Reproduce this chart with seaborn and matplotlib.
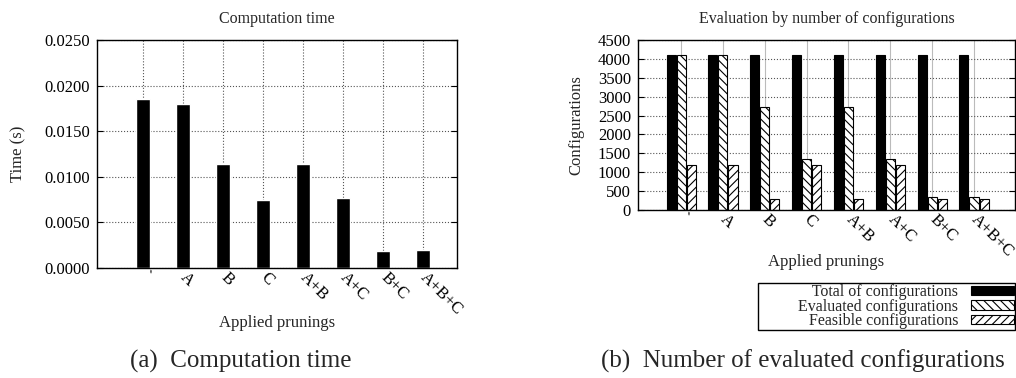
import numpy as np
import pandas as pd
import matplotlib
matplotlib.use('Agg')
import matplotlib.pyplot as plt
import seaborn as sns

# Data
prunings = ['`', 'A', 'B', 'C', 'A+B', 'A+C', 'B+C', 'A+B+C']
times = [0.01853, 0.01798, 0.0114, 0.00742, 0.0114, 0.00764, 0.0019, 0.00197]

total_cfg = [4096, 4096, 4096, 4096, 4096, 4096, 4096, 4096]
evaluated_cfg = [4096, 4096, 2730, 1340, 2730, 1340, 340, 340]
feasible_cfg = [1200, 1200, 280, 1200, 280, 1200, 280, 280]
series_names = ['Total of configurations', 'Evaluated configurations', 'Feasible configurations']

sns.set_style('white')
plt.rcParams['font.family'] = ['Liberation Serif', 'DejaVu Serif']
plt.rcParams['hatch.linewidth'] = 0.8

fig = plt.figure(figsize=(10.16, 3.78), dpi=100)
W, H = 1016, 378


def px_axes(x0, x1, ytop, ybot):
    return fig.add_axes([x0 / W, (H - ybot) / H, (x1 - x0) / W, (ybot - ytop) / H])


def style_axes(ax):
    for s in ax.spines.values():
        s.set_visible(True)
        s.set_color('black')
        s.set_linewidth(1.0)
    ax.set_axisbelow(True)
    ax.tick_params(axis='y', direction='in', length=4, right=True, left=True,
                   labelsize=12, colors='black', pad=5)
    ax.tick_params(axis='x', length=0, labelsize=12, pad=5, labelcolor='black')
    for lab in ax.get_xticklabels():
        lab.set_rotation(-45)
        lab.set_ha('left')
        lab.set_va('center')
        lab.set_rotation_mode('anchor')


# (a) Computation time
ax1 = px_axes(97, 457, 40, 268)
sns.barplot(x=prunings, y=times, color='black', width=0.35, saturation=1, ax=ax1)
ax1.set_xlim(-1.15, 7.85)
ax1.set_ylim(0, 0.025)
ax1.set_yticks(np.arange(0, 0.0251, 0.005))
ax1.yaxis.set_major_formatter(plt.FuncFormatter(lambda v, _: f'{v:.4f}'))
ax1.grid(True, linestyle=':', color='#555555', linewidth=0.8)
style_axes(ax1)
ax1.set_title('Computation time', fontsize=11.5, pad=12)
ax1.set_ylabel('Time (s)', fontsize=12)
ax1.set_xlabel('Applied prunings', fontsize=12)
ax1.yaxis.set_label_coords(-0.197, 0.5)
ax1.xaxis.set_label_coords(0.5, -0.205)

# (b) Number of evaluated configurations
df = pd.DataFrame({
    'pruning': prunings * 3,
    'value': total_cfg + evaluated_cfg + feasible_cfg,
    'series': [series_names[0]] * 8 + [series_names[1]] * 8 + [series_names[2]] * 8,
})
ax2 = px_axes(638, 1015, 40, 210)
sns.barplot(data=df, x='pruning', y='value', hue='series', hue_order=series_names,
            palette=['black', 'white', 'white'], saturation=1, width=0.72, gap=0.1,
            edgecolor='black', linewidth=0.8, ax=ax2)
hatches = ['', '\\\\\\\\', '////']
for cont, h in zip(ax2.containers, hatches):
    for bar in cont:
        bar.set_hatch(h)
ax2.set_xlim(-1.03, 7.98)
ax2.set_ylim(0, 4500)
ax2.set_yticks(np.arange(0, 4501, 500))
ax2.yaxis.grid(True, linestyle=':', color='#555555', linewidth=0.8)
ax2.xaxis.grid(True, linestyle='-', color='#bbbbbb', linewidth=0.8)
style_axes(ax2)
ax2.set_title('Evaluation by number of configurations', fontsize=11.5, pad=12)
ax2.set_ylabel('Configurations', fontsize=12)
ax2.set_xlabel('Applied prunings', fontsize=12)
ax2.yaxis.set_label_coords(-0.141, 0.5)
ax2.xaxis.set_label_coords(0.5, -0.26)

handles, labels = ax2.get_legend_handles_labels()
labels = ['          ' + l for l in labels]
leg = ax2.legend(handles, labels, loc='upper right', bbox_to_anchor=(1.0, -0.43),
                 borderaxespad=0, fancybox=False, edgecolor='black', framealpha=1,
                 markerfirst=False, fontsize=11.5, handlelength=2.7, handleheight=0.5,
                 labelspacing=-0.08, borderpad=0.05, handletextpad=0.8)
leg.get_frame().set_linewidth(1.0)
for t in leg.get_texts():
    t.set_ha('right')
for hnd, h, fc in zip(leg.legend_handles, hatches, ['black', 'white', 'white']):
    hnd.set_hatch(h)
    hnd.set_facecolor(fc)
    hnd.set_edgecolor('black')
    hnd.set_linewidth(0.8)

fig.text(241 / W, 1 - 361 / H, '(a)  Computation time', fontsize=18, ha='center', va='center')
fig.text(803 / W, 1 - 361 / H, '(b)  Number of evaluated configurations', fontsize=18,
         ha='center', va='center')

fig.savefig('out.png', dpi=100)
